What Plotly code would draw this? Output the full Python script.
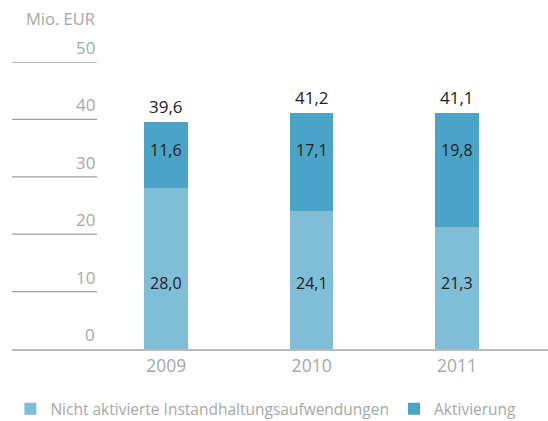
import plotly.graph_objects as go

years = ["2009", "2010", "2011"]
nicht_aktiviert = [28.0, 24.1, 21.3]
aktivierung = [11.6, 17.1, 19.8]
totals = [39.6, 41.2, 41.1]
y_ticks = [0, 10, 20, 30, 40, 50]
series_names = ["Nicht aktivierte Instandhaltungsaufwendungen", "Aktivierung"]
unit_label = "Mio. EUR"

LIGHT = "#80bdd7"
DARK = "#4ba4c8"
GRAY = "#a8a8a8"
TXT = "#222222"
FONT = "Open Sans"

def fmt(v):
    return f"{v:.1f}".replace(".", ",")

fig = go.Figure()
fig.add_trace(go.Bar(x=years, y=nicht_aktiviert, name=series_names[0],
                     marker=dict(color=LIGHT, line=dict(width=0)), width=0.3))
fig.add_trace(go.Bar(x=years, y=aktivierung, name=series_names[1],
                     marker=dict(color=DARK, line=dict(width=0)), width=0.3))

ann = []
for i, yr in enumerate(years):
    ann.append(dict(x=i, y=11.5, text=fmt(nicht_aktiviert[i]), showarrow=False,
                    font=dict(size=16, color=TXT, family=FONT), xref="x", yref="y"))
    ann.append(dict(x=i, y=34.7, text=fmt(aktivierung[i]), showarrow=False,
                    font=dict(size=16, color=TXT, family=FONT), xref="x", yref="y"))
    ann.append(dict(x=i, y=totals[i], text=fmt(totals[i]), showarrow=False,
                    yanchor="bottom", yshift=2,
                    font=dict(size=17, color=TXT, family=FONT), xref="x", yref="y"))

grid_end = (97 - 12) / 536
shapes = []
for t in y_ticks:
    if t > 0:
        shapes.append(dict(type="line", xref="paper", yref="y", x0=0, x1=grid_end,
                           y0=t, y1=t, line=dict(color="#a0a0a0", width=1.3)))
    ann.append(dict(x=grid_end, y=t, text=str(t), showarrow=False, xref="paper", yref="y",
                    xanchor="right", yanchor="bottom", yshift=1,
                    font=dict(size=17, color=GRAY, family=FONT)))
ann.append(dict(x=grid_end, y=1, xref="paper", yref="paper", text=unit_label, showarrow=False,
                xanchor="right", yanchor="bottom", yshift=30,
                font=dict(size=16.5, color=GRAY, family=FONT)))

fig.update_layout(
    barmode="stack",
    width=548, height=421,
    margin=dict(l=12, r=0, t=62, b=72, autoexpand=False),
    paper_bgcolor="white", plot_bgcolor="white",
    font=dict(family=FONT, color=GRAY, size=16),
    xaxis=dict(type="category", range=[-1.06, 2.625], showgrid=False, zeroline=False,
               showline=True, linecolor="#bbbbbb", linewidth=2, ticks="",
               tickfont=dict(size=17.5, color=GRAY, family=FONT)),
    yaxis=dict(range=[0, 50], showgrid=False, zeroline=False, showticklabels=False,
               showline=False),
    showlegend=True,
    legend=dict(orientation="h", x=-0.003, xanchor="left", y=-0.21, yanchor="middle",
                traceorder="normal", font=dict(size=15.5, color=GRAY, family=FONT),
                itemwidth=30, bgcolor="rgba(0,0,0,0)"),
    annotations=ann, shapes=shapes,
    bargap=0,
)
fig.write_html("out.html", config={"displayModeBar": False},
               post_script="document.body.style.margin='0';document.body.style.overflow='hidden';")
